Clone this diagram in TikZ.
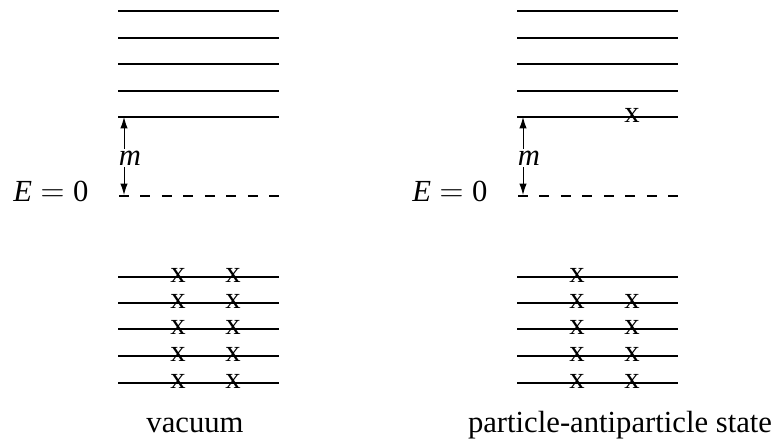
\documentclass[tikz,border=0pt]{standalone}
\usepackage{fontspec}
\setmainfont{Liberation Serif}
\usetikzlibrary{arrows.meta,positioning}

\begin{document}
\begin{tikzpicture}[x=0.75pt, y=-0.75pt]
    \def\W{161}
    \tikzset{level/.style={line width=1.2pt}}
    \tikzset{zerolevel/.style={line width=1.2pt, dash pattern=on 7.5pt off 8.6pt}}
    \tikzset{occ/.style={inner sep=0pt, font=\fontsize{23}{27}\selectfont}}
    \tikzset{lbl/.style={inner sep=0pt, font=\fontsize{23}{27}\selectfont}}
    \tikzset{gaparrow/.style={-{Latex[length=8.5pt,width=5.5pt]}, line width=0.7pt}}

    \useasboundingbox (0,0) rectangle (781,445);

    \foreach \p/\ox in {L/118, R/517} {
        % UPPER LEVELS
        \foreach \k/\y in {1/11, 2/38, 3/64, 4/91, 5/117} {
            \coordinate (up\p\k a) at (\ox,\y);
            \coordinate (up\p\k b) at (\ox+\W,\y);
            \draw[level] (up\p\k a) -- (up\p\k b);
        }
        % LOWER LEVELS
        \foreach \k/\y in {1/277, 2/303, 3/329, 4/356, 5/383} {
            \coordinate (lo\p\k a) at (\ox,\y);
            \coordinate (lo\p\k b) at (\ox+\W,\y);
            \draw[level] (lo\p\k a) -- (lo\p\k b);
        }
        % E = 0 AND GAP
        \coordinate (zero\p a) at (\ox+1,196);
        \coordinate (zero\p b) at (\ox+\W,196);
        \draw[zerolevel] (zero\p a) -- (zero\p b);
        \coordinate (top\p) at (\ox+6,117);
        \coordinate (bot\p) at (\ox+6,195);
        \node[lbl, inner sep=1.5pt] (m\p) at (\ox+12,158) {\textit{m}};
        \draw[gaparrow] (m\p.north -| top\p) -- (top\p);
        \draw[gaparrow] (m\p.south -| bot\p) -- (bot\p);
        \node[lbl, anchor=base west] (E\p) at (\ox-105,202) {\textit{E}\hspace{0.28em}$=$\hspace{0.28em}0};
    }

    % OCCUPIED STATES
    \foreach \k/\y in {1/277, 2/303, 3/329, 4/356, 5/383} {
        \node[occ] (xLa\k) at (178,\y-2) {x};
        \node[occ] (xLb\k) at (233,\y-2) {x};
        \node[occ] (xRa\k) at (577,\y-2) {x};
    }
    \foreach \k/\y in {2/303, 3/329, 4/356, 5/383} {
        \node[occ] (xRb\k) at (632,\y-2) {x};
    }
    \node[occ] (xRup) at (632,115) {x};

    % CAPTIONS
    \node[lbl, anchor=base] (capL) at (195,432) {vacuum};
    \node[lbl, anchor=base] (capR) at (620,432) {particle-antiparticle state};
\end{tikzpicture}
\end{document}
